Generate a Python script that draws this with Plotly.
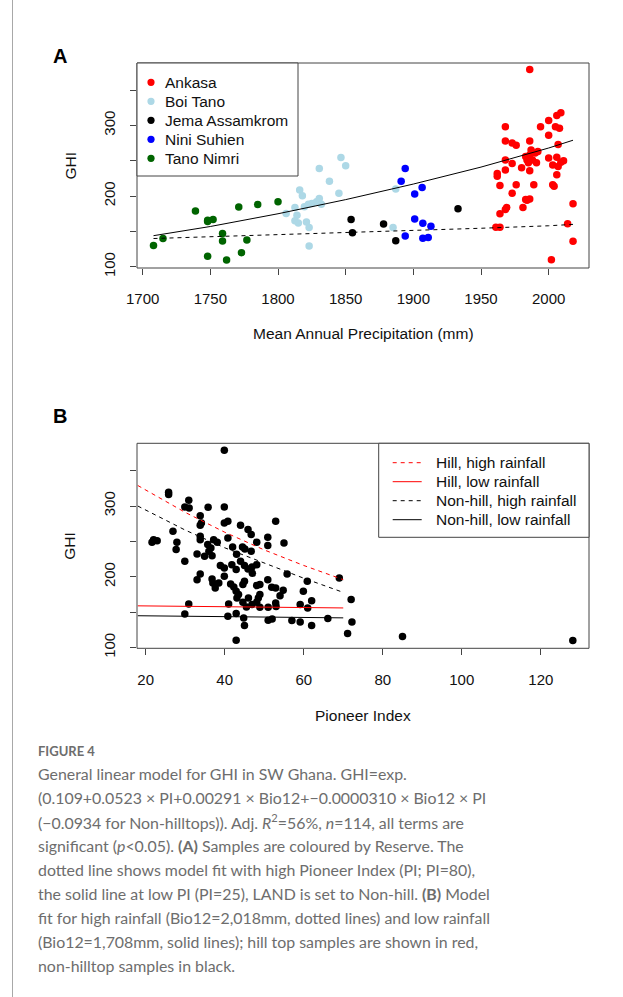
import plotly.graph_objects as go

# ---------------- data ----------------
ankasa_precip = [1986, 1968, 1968, 1973, 1976, 1986, 1994, 2000, 2006, 2009,
                 2000, 2005, 2008, 2007, 1987, 1990, 1986, 1984, 1985, 1988,
                 1991, 1968, 1968, 1973, 1980, 1986, 2000, 2006, 2003, 2007,
                 2011, 2009, 2006, 1962, 1962, 1964, 1976, 1989, 2003, 2004,
                 1973, 1983, 1986, 1984, 1981, 1969, 1968, 1964, 1961, 1964,
                 2018, 2014, 2018, 2002, 1992, 1983]
ankasa_ghi = [379, 298, 278, 275, 272, 278, 298, 307, 314, 318,
              286, 298, 296, 273, 265, 261, 258, 251, 247, 251,
              247, 251, 237, 246, 240, 236, 254, 255, 244, 242,
              250, 248, 230, 232, 228, 215, 216, 216, 216, 214,
              204, 195, 196, 194, 184, 184, 181, 175, 156, 156,
              189, 161, 136, 110, 263, 256]

boi_tano_precip = [1806, 1812.5, 1814, 1812.5, 1815, 1816, 1818, 1819.5, 1821, 1822.5,
                   1823, 1823, 1825, 1828.5, 1830.5, 1832, 1830.5, 1838, 1845, 1846.5,
                   1850, 1887, 1885]
boi_tano_ghi = [175.5, 184, 173, 165, 162, 208.5, 200.5, 185, 163.5, 188.5,
                155.5, 129.5, 189.5, 192, 196.5, 188.5, 239, 221, 204, 254.5,
                243, 210, 155.5]

jema_precip = [1854, 1855, 1878, 1887, 1933]
jema_ghi = [167, 148, 160.5, 137, 182]

nini_precip = [1894, 1891, 1901, 1906.5, 1901, 1907, 1913, 1894, 1907, 1911]
nini_ghi = [239, 221, 203, 212, 167.5, 161.5, 157.5, 143.5, 140.5, 141.5]

tano_precip = [1708, 1715, 1739, 1748, 1748, 1752, 1748, 1759, 1759, 1762,
               1771, 1773, 1777, 1785, 1800]
tano_ghi = [130, 140, 179, 164, 166, 167, 115, 147, 136.5, 109.5,
            184.5, 120, 138, 188, 192]

reserve_names = ["Ankasa", "Boi Tano", "Jema Assamkrom", "Nini Suhien", "Tano Nimri"]
reserve_colors = ["#FF0000", "#ADD8E6", "#000000", "#0000FF", "#006400"]

# model fit lines in panel A
fit_precip = [1708, 1750, 1800, 1850, 1900, 1950, 2000, 2018]
fit_low_pi = [144, 157, 175, 195, 217, 241, 268, 279]
fit_high_pi = [140, 142.5, 145, 148, 151, 154.5, 158, 160]

# panel B points
pioneer_index = [
    39.9, 25.8, 25.8, 30.9, 29.9, 31.0, 35.8, 39.9, 33.8, 33.8,
    34.1, 39.9, 40.8, 44.0, 45.9, 46.7, 26.9, 22.0, 21.6, 22.9,
    27.9, 27.7, 33.8, 33.8, 35.7, 36.5, 37.2, 38.1, 36.0, 40.8,
    33.0, 34.9, 36.8, 44.5, 45.1, 42.0, 46.7, 29.9, 38.9, 39.9,
    41.8, 44.0, 45.0, 45.9, 46.9, 33.8, 33.0, 36.8, 37.0, 37.6,
    38.5, 39.9, 42.9, 42.3, 42.9, 43.5, 44.6, 45.0, 43.1, 44.6,
    45.5, 46.9, 30.9, 29.9, 41.0, 40.8, 42.9, 44.8, 45.0, 42.9,
    52.9, 48.1, 50.9, 50.9, 55.0, 48.1, 55.8, 60.9, 69.0, 50.9,
    48.1, 48.9, 51.9, 52.9, 54.8, 54.0, 48.9, 48.5, 48.1, 59.9,
    62.0, 59.1, 61.0, 52.9, 51.0, 48.9, 51.0, 52.0, 57.0, 59.1,
    62.0, 66.1, 72.0, 72.2, 71.1, 85.0, 128.1,
    47.0, 53.0, 46.0, 41.5, 43.0]
ghi_b = [
    378.8, 319.5, 316.1, 308.2, 298.7, 297.3, 298.3, 298.7, 286.4, 272.9,
    276.1, 276.1, 278.5, 272.9, 266.7, 259.6, 264.4, 252.5, 248.9, 251.1,
    248.9, 238.4, 257.3, 252.5, 245.5, 240.8, 252.5, 248.9, 236.2, 254.9,
    232.3, 229.1, 229.9, 242.2, 239.4, 242.2, 236.2, 222.0, 215.8, 212.6,
    217.2, 222.0, 215.8, 211.2, 214.0, 204.1, 196.0, 197.0, 191.4, 184.3,
    191.4, 200.8, 210.2, 185.7, 179.7, 174.9, 189.0, 193.8, 170.2, 164.1,
    157.5, 160.7, 161.7, 147.6, 161.7, 144.3, 148.0, 141.9, 131.1, 110.5,
    278.5, 248.9, 255.9, 244.1, 247.9, 217.2, 204.1, 193.8, 198.4, 196.0,
    187.6, 189.0, 185.3, 184.3, 181.1, 173.4, 174.9, 170.2, 164.1, 179.7,
    166.0, 160.7, 156.1, 163.1, 157.1, 157.1, 138.7, 140.5, 138.1, 136.3,
    131.1, 141.0, 167.8, 136.3, 119.8, 115.5, 109.9,
    205.0, 157.9, 170.0, 190.0, 232.0]

# model fit lines in panel B
pi_fit = [18, 30, 40, 50, 60, 70]
hill_high = [329, 291, 263, 238, 216, 196]
hill_low = [159, 158.5, 158, 157, 156.5, 156]
nonhill_high = [300, 266, 241, 219, 198, 178]
nonhill_low = [145, 144.5, 144, 143, 142.5, 142]

fit_names_b = ["Hill, high rainfall", "Hill, low rainfall",
               "Non-hill, high rainfall", "Non-hill, low rainfall"]
fit_colors_b = ["#FF0000", "#FF0000", "#000000", "#000000"]
fit_dash_b = ["4px,4px", "solid", "4px,4px", "solid"]

x_ticks_a = [1700, 1750, 1800, 1850, 1900, 1950, 2000]
x_ticks_b = [20, 40, 60, 80, 100, 120]
y_ticks_labelled = [100, 200, 300]

caption_title = "FIGURE 4"
caption_lines = [
    "General linear model for GHI in SW Ghana. GHI=exp.",
    "(0.109+0.0523 × PI+0.00291 × Bio12+−0.0000310 × Bio12 × PI",
    "(−0.0934 for Non-hilltops)). Adj. <i>R</i><sup>2</sup>=56%, <i>n</i>=114, all terms are",
    "significant (<i>p</i>&lt;0.05). <b>(A)</b> Samples are coloured by Reserve. The",
    "dotted line shows model fit with high Pioneer Index (PI; PI=80),",
    "the solid line at low PI (PI=25), LAND is set to Non-hill. <b>(B)</b> Model",
    "fit for high rainfall (Bio12=2,018mm, dotted lines) and low rainfall",
    "(Bio12=1,708mm, solid lines); hill top samples are shown in red,",
    "non-hilltop samples in black.",
]

# ---------------- geometry helpers ----------------
W, H = 623, 997
FONT = "Liberation Sans, Arial, sans-serif"
CAP_FONT = "Lato, Open Sans, sans-serif"


def fx(p):
    return p / W


def fy(p):
    return 1 - p / H


def note(xp, yp, text, size=15.5, xanchor="center", yanchor="middle",
         family=FONT, color="#111", angle=0):
    return dict(x=fx(xp), y=fy(yp), xref="paper", yref="paper", text=text,
                showarrow=False, xanchor=xanchor, yanchor=yanchor, textangle=angle,
                borderpad=0, borderwidth=0,
                font=dict(family=family, size=size, color=color))


fig = go.Figure()

# ---------------- panel A ----------------
series_a = [(ankasa_precip, ankasa_ghi), (boi_tano_precip, boi_tano_ghi),
            (jema_precip, jema_ghi), (nini_precip, nini_ghi), (tano_precip, tano_ghi)]
for (xs, ys), name, col in zip(series_a, reserve_names, reserve_colors):
    fig.add_trace(go.Scatter(x=xs, y=ys, mode="markers", name=name, showlegend=False,
                             marker=dict(size=7.5, color=col, line=dict(width=0)),
                             xaxis="x", yaxis="y"))
fig.add_trace(go.Scatter(x=fit_precip, y=fit_low_pi, mode="lines", showlegend=False,
                         line=dict(color="#000000", width=1), xaxis="x", yaxis="y"))
fig.add_trace(go.Scatter(x=fit_precip, y=fit_high_pi, mode="lines", showlegend=False,
                         line=dict(color="#000000", width=1, dash="4px,4px"),
                         xaxis="x", yaxis="y"))

# ---------------- panel B ----------------
fig.add_trace(go.Scatter(x=pioneer_index, y=ghi_b, mode="markers", showlegend=False,
                         marker=dict(size=7.5, color="#000000", line=dict(width=0)),
                         xaxis="x2", yaxis="y2"))
for ys, name, col, dash in zip([hill_high, hill_low, nonhill_high, nonhill_low],
                               fit_names_b, fit_colors_b, fit_dash_b):
    fig.add_trace(go.Scatter(x=pi_fit, y=ys, mode="lines", name=name, showlegend=False,
                             line=dict(color=col, width=1, dash=dash),
                             xaxis="x2", yaxis="y2"))

# ---------------- axes ----------------
axis_common = dict(showgrid=False, zeroline=False, showline=False, ticks="outside",
                   ticklen=6, tickwidth=1, tickcolor="#444", automargin=False,
                   tickfont=dict(family=FONT, size=15, color="#111"))
y_minor = dict(ticks="outside", ticklen=6, tickwidth=1, tickcolor="#444",
               tick0=100, dtick=50, showgrid=False)

fig.update_layout(
    width=W, height=H, margin=dict(l=0, r=0, t=0, b=0, autoexpand=False),
    paper_bgcolor="white", plot_bgcolor="white",
    xaxis=dict(domain=[fx(137), fx(589)], range=[1695.8, 2029.8], anchor="y",
               tickvals=x_ticks_a, ticklabelstandoff=11, **axis_common),
    yaxis=dict(domain=[fy(268), fy(63)], range=[98.3, 388.2], anchor="x",
               tickvals=y_ticks_labelled, tickangle=-90, minor=y_minor,
               ticklabelstandoff=9, **axis_common),
    xaxis2=dict(domain=[fx(137), fx(589)], range=[17.8, 132.2], anchor="y2",
                tickvals=x_ticks_b, ticklabelstandoff=12, **axis_common),
    yaxis2=dict(domain=[fy(648.3), fy(443.3)], range=[99.0, 388.6], anchor="x2",
                tickvals=y_ticks_labelled, tickangle=-90, minor=y_minor,
                ticklabelstandoff=9, **axis_common),
)

shapes = []
# plot boxes
for xr, yr in [("x domain", "y domain"), ("x2 domain", "y2 domain")]:
    shapes.append(dict(type="rect", xref=xr, yref=yr, x0=0, x1=1, y0=0, y1=1,
                       line=dict(color="#444", width=1), layer="above"))
# page border line on the left
shapes.append(dict(type="line", xref="paper", yref="paper", x0=fx(12.5), x1=fx(12.5),
                   y0=0, y1=1, line=dict(color="#a8a8a8", width=1)))
# legend boxes
shapes.append(dict(type="rect", xref="paper", yref="paper", x0=fx(137), x1=fx(298),
                   y0=fy(176), y1=fy(63), line=dict(color="#444", width=1),
                   fillcolor="white", layer="above"))
shapes.append(dict(type="rect", xref="paper", yref="paper", x0=fx(378.7), x1=fx(589),
                   y0=fy(537.3), y1=fy(443.3), line=dict(color="#444", width=1),
                   fillcolor="white", layer="above"))

annotations = []
# legend A
for i, (name, col) in enumerate(zip(reserve_names, reserve_colors)):
    yc = 82.3 + 19 * i
    shapes.append(dict(type="circle", xref="paper", yref="paper",
                       x0=fx(151 - 3.6), x1=fx(151 + 3.6), y0=fy(yc + 3.6), y1=fy(yc - 3.6),
                       fillcolor=col, line=dict(width=0), layer="above"))
    annotations.append(note(165, yc, name, xanchor="left"))
# legend B
for i, (name, col, dash) in enumerate(zip(fit_names_b, fit_colors_b, fit_dash_b)):
    yc = 462.7 + 19 * i
    shapes.append(dict(type="line", xref="paper", yref="paper",
                       x0=fx(392.7), x1=fx(421.7), y0=fy(yc), y1=fy(yc),
                       line=dict(color=col, width=1, dash=dash), layer="above"))
    annotations.append(note(436, yc, name, xanchor="left"))

# panel letters
annotations.append(note(60, 56, "<b>A</b>", size=20, color="#000"))
annotations.append(note(60, 416, "<b>B</b>", size=20, color="#000"))
# axis titles
for yc in [165.5, 545.8]:
    annotations.append(note(70, yc, "GHI", angle=-90))
annotations.append(note(363, 334, "Mean Annual Precipitation (mm)"))
annotations.append(note(363, 715, "Pioneer Index"))
# caption
annotations.append(note(38, 751, "<b>" + caption_title + "</b>", size=13,
                        xanchor="left", family=CAP_FONT, color="#6d6d6d"))
for i, line in enumerate(caption_lines):
    annotations.append(note(38, 773.5 + 24 * i, line, size=15.9, xanchor="left",
                            family=CAP_FONT, color="#6d6d6d"))

fig.update_layout(shapes=shapes, annotations=annotations)
fig.write_html("out.html")
